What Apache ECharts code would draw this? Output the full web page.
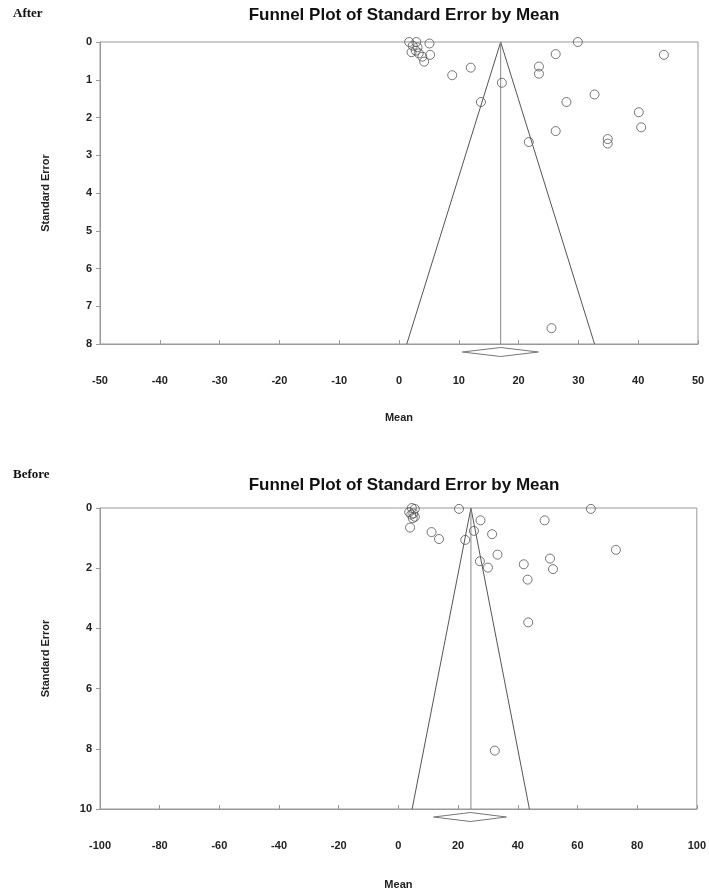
<!DOCTYPE html>
<html>
<head>
<meta charset="utf-8">
<script src="https://cdn.jsdelivr.net/npm/echarts@6/dist/echarts.min.js"></script>
<style>html,body{margin:0;padding:0;background:#fff;}#c{width:709px;height:891px;}</style>
</head>
<body>
<div id="c"></div>
<script>
// ---- After (top chart) ----
const afterMean = [1.7, 2.9, 5.1, 2.3, 3.1, 2.8, 2.1, 3.3, 5.2, 3.9, 4.2, 8.9, 12.0, 17.2, 13.7, 21.7, 23.4, 23.4, 26.2, 29.9, 28.0, 26.2, 32.7, 40.1, 40.5, 34.9, 34.9, 44.3, 25.5];
const afterSE   = [0.0, 0.0, 0.04, 0.1, 0.14, 0.23, 0.27, 0.3, 0.34, 0.39, 0.52, 0.88, 0.68, 1.08, 1.59, 2.65, 0.65, 0.84, 0.32, 0.0, 1.59, 2.36, 1.39, 1.86, 2.26, 2.57, 2.69, 0.34, 7.58];
const afterFunnel = [[1.3, 8], [17.0, 0], [32.7, 8]];
const afterMeanLine = [[17.0, 0], [17.0, 8]];
const afterDiamond = [10.6, 17.0, 23.3];
const afterXTicks = [-50, 50, 10];
const afterYTicks = [0, 8, 1];

// ---- Before (bottom chart) ----
const beforeMean = [3.6, 5.5, 5.0, 4.8, 5.5, 3.9, 4.5, 4.3, 11.1, 13.6, 20.3, 27.5, 25.3, 22.4, 31.4, 33.2, 27.3, 30.0, 42.0, 43.3, 49.0, 50.8, 51.8, 64.5, 72.9, 43.5, 32.3];
const beforeSE   = [0.14, 0.03, 0.18, 0.34, 0.29, 0.65, 0.0, 0.22, 0.8, 1.03, 0.03, 0.41, 0.76, 1.06, 0.87, 1.55, 1.77, 1.98, 1.87, 2.38, 0.41, 1.68, 2.03, 0.03, 1.39, 3.80, 8.06];
const beforeFunnel = [[4.6, 10], [24.3, 0], [43.9, 10]];
const beforeMeanLine = [[24.3, 0], [24.3, 10]];
const beforeDiamond = [11.8, 24.1, 36.2];
const beforeXTicks = [-100, 100, 20];
const beforeYTicks = [0, 10, 2];

const FONT = "'Liberation Sans', Arial, sans-serif";
const SERIF = "'Liberation Serif', 'Times New Roman', serif";

function xAxisCfg(idx, t, gap) {
  return {
    gridIndex: idx, type: 'value', position: 'bottom', min: t[0], max: t[1], interval: t[2],
    axisLine: { show: true, onZero: false, lineStyle: { color: '#999', width: 1 } },
    axisTick: { show: true, inside: true, length: 4, lineStyle: { color: '#999' } },
    axisLabel: { margin: 31, fontFamily: FONT, fontWeight: 'bold', fontSize: 11, color: '#222' },
    splitLine: { show: false },
    name: 'Mean', nameLocation: 'middle', nameGap: gap,
    nameTextStyle: { fontFamily: FONT, fontWeight: 'bold', fontSize: 11, color: '#222' }
  };
}
function yAxisCfg(idx, t) {
  return {
    gridIndex: idx, type: 'value', position: 'left', inverse: true, min: t[0], max: t[1], interval: t[2],
    axisLine: { show: true, onZero: false, lineStyle: { color: '#999', width: 1 } },
    axisTick: { show: true, inside: false, length: 4, lineStyle: { color: '#999' } },
    axisLabel: { margin: 8, fontFamily: FONT, fontWeight: 'bold', fontSize: 11, color: '#222' },
    splitLine: { show: false },
    name: 'Standard Error', nameLocation: 'middle', nameGap: 49,
    nameTextStyle: { fontFamily: FONT, fontWeight: 'bold', fontSize: 11, color: '#222' }
  };
}
function scatterSeries(idx, xs, ys) {
  return {
    type: 'scatter', xAxisIndex: idx, yAxisIndex: idx, clip: false, silent: true,
    symbol: 'circle', symbolSize: 9,
    itemStyle: { color: 'rgba(255,255,255,0)', borderColor: '#555', borderWidth: 1 },
    data: xs.map((x, i) => [x, ys[i]]), z: 5
  };
}
function lineSeries(idx, pts, color) {
  return {
    type: 'line', xAxisIndex: idx, yAxisIndex: idx, data: pts, symbol: 'none', silent: true,
    lineStyle: { color: color, width: 1 }, z: 3
  };
}
function diamondSeries(idx, d, yMax) {
  return {
    type: 'custom', xAxisIndex: idx, yAxisIndex: idx, clip: false, silent: true,
    data: [[d[0], d[1], d[2], yMax]],
    encode: { x: [0, 1, 2], y: 3 },
    renderItem: function (params, api) {
      const l = api.coord([api.value(0), api.value(3)]);
      const m = api.coord([api.value(1), api.value(3)]);
      const h = api.coord([api.value(2), api.value(3)]);
      const cy = l[1] + 8, hh = 4.5;
      return {
        type: 'polygon',
        shape: { points: [[l[0], cy], [m[0], cy - hh], [h[0], cy], [m[0], cy + hh]] },
        style: { fill: '#fff', stroke: '#777', lineWidth: 1 }
      };
    }
  };
}

const chart = echarts.init(document.getElementById('c'), null, { renderer: 'canvas' });
chart.setOption({
  backgroundColor: '#fff',
  animation: false,
  title: [
    { text: 'After', left: 8, top: 2, textStyle: { fontFamily: SERIF, fontWeight: 'bold', fontSize: 13, color: '#111' } },
    { text: 'Funnel Plot of Standard Error by Mean', left: 399, textAlign: 'center', top: 2, textStyle: { fontFamily: FONT, fontWeight: 'bold', fontSize: 17, color: '#111' } },
    { text: 'Before', left: 8, top: 463, textStyle: { fontFamily: SERIF, fontWeight: 'bold', fontSize: 13, color: '#111' } },
    { text: 'Funnel Plot of Standard Error by Mean', left: 399, textAlign: 'center', top: 472, textStyle: { fontFamily: FONT, fontWeight: 'bold', fontSize: 17, color: '#111' } }
  ],
  grid: [
    { left: 100, right: 11, top: 42, height: 302, show: true, borderColor: '#999', borderWidth: 1, backgroundColor: '#fff' },
    { left: 100, right: 11, top: 508, height: 303, show: true, borderColor: '#999', borderWidth: 1, backgroundColor: '#fff' }
  ],
  xAxis: [xAxisCfg(0, afterXTicks, 68), xAxisCfg(1, beforeXTicks, 70)],
  yAxis: [yAxisCfg(0, afterYTicks), yAxisCfg(1, beforeYTicks)],
  series: [
    lineSeries(0, afterFunnel, '#555'),
    lineSeries(0, afterMeanLine, '#888'),
    scatterSeries(0, afterMean, afterSE),
    diamondSeries(0, afterDiamond, afterYTicks[1]),
    lineSeries(1, beforeFunnel, '#555'),
    lineSeries(1, beforeMeanLine, '#888'),
    scatterSeries(1, beforeMean, beforeSE),
    diamondSeries(1, beforeDiamond, beforeYTicks[1])
  ]
});
</script>
</body>
</html>
